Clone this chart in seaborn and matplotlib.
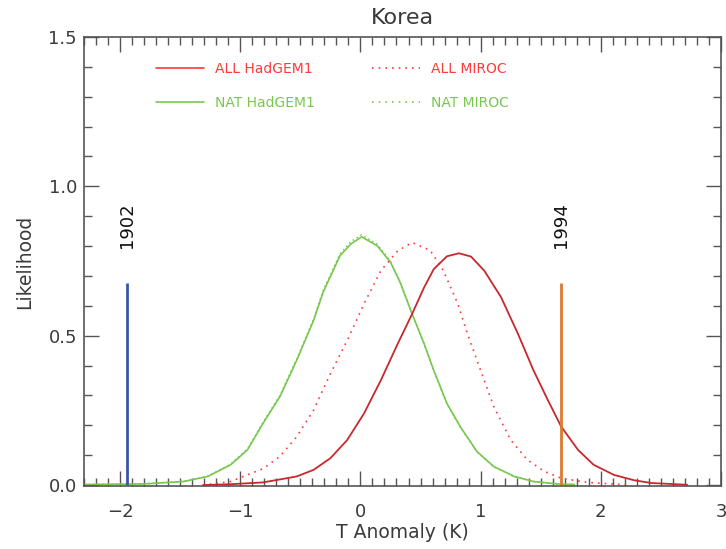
import matplotlib
matplotlib.use("Agg")
import matplotlib.pyplot as plt
import seaborn as sns
import pandas as pd
from matplotlib.lines import Line2D
from matplotlib.ticker import MultipleLocator, FormatStrFormatter

# ---------------- data ----------------
nat_had_x = [-2.3, -1.8, -1.47, -1.27, -1.08, -0.94, -0.81, -0.67, -0.53, -0.39, -0.31, -0.17, -0.08,
             0.01, 0.14, 0.25, 0.33, 0.43, 0.53, 0.61, 0.72, 0.83, 0.97, 1.11, 1.28, 1.44, 1.64, 1.78]
nat_had_y = [0.002, 0.004, 0.012, 0.029, 0.068, 0.118, 0.207, 0.296, 0.418, 0.551, 0.646, 0.768, 0.807,
             0.831, 0.801, 0.746, 0.679, 0.573, 0.473, 0.384, 0.273, 0.196, 0.112, 0.062, 0.029, 0.012,
             0.004, 0.002]

nat_miroc_x = [-2.3, -1.8, -1.47, -1.27, -1.08, -0.94, -0.81, -0.67, -0.53, -0.39, -0.31, -0.17, -0.08,
               0.01, 0.14, 0.25, 0.33, 0.43, 0.53, 0.61, 0.72, 0.83, 0.97, 1.11, 1.28, 1.44, 1.64, 1.78]
nat_miroc_y = [0.002, 0.004, 0.013, 0.030, 0.070, 0.121, 0.210, 0.300, 0.422, 0.555, 0.651, 0.774, 0.815,
               0.838, 0.806, 0.749, 0.680, 0.573, 0.472, 0.383, 0.272, 0.195, 0.111, 0.061, 0.029, 0.012,
               0.004, 0.002]

all_had_x = [-1.31, -1.08, -0.81, -0.53, -0.39, -0.25, -0.11, 0.03, 0.17, 0.31, 0.43, 0.53, 0.61, 0.72,
             0.82, 0.92, 1.03, 1.17, 1.31, 1.44, 1.56, 1.67, 1.81, 1.94, 2.11, 2.28, 2.42, 2.72]
all_had_y = [0.000, 0.003, 0.009, 0.029, 0.051, 0.090, 0.151, 0.240, 0.351, 0.473, 0.573, 0.662, 0.723,
             0.766, 0.776, 0.765, 0.718, 0.629, 0.507, 0.384, 0.284, 0.196, 0.118, 0.068, 0.034, 0.016,
             0.007, 0.001]

all_miroc_x = [-1.31, -1.08, -0.81, -0.67, -0.53, -0.39, -0.25, -0.11, 0.03, 0.17, 0.31, 0.43, 0.58,
               0.69, 0.81, 0.89, 1.00, 1.11, 1.25, 1.39, 1.53, 1.67, 1.89, 2.22]
all_miroc_y = [0.000, 0.012, 0.055, 0.096, 0.162, 0.251, 0.373, 0.484, 0.607, 0.718, 0.784, 0.812, 0.786,
               0.718, 0.607, 0.507, 0.384, 0.262, 0.151, 0.084, 0.046, 0.023, 0.009, 0.001]

event_years = ["1902", "1994"]
event_x = [-1.94, 1.67]
event_height = [0.675, 0.675]

x_ticks = [-2, -1, 0, 1, 2, 3]
y_ticks = [0.0, 0.5, 1.0, 1.5]

# ---------------- styling ----------------
sns.set_style("ticks")
plt.rcParams["font.family"] = ["DejaVu Sans"]
TXT = "#3a3a3a"
AX = "#555555"
RED_DARK = "#c8282c"
RED = "#ff3a3a"
GREEN = "#78c850"
BLUE = "#3a55a8"
ORANGE = "#dc7a30"

fig = plt.figure(figsize=(7.26, 5.49), dpi=100)
ax = fig.add_axes([84 / 726, 1 - 486 / 549, (721 - 84) / 726, (486 - 37) / 549])

def draw(x, y, color, ls, lw):
    df = pd.DataFrame({"x": x, "y": y})
    sns.lineplot(data=df, x="x", y="y", ax=ax, color=color, linestyle=ls, linewidth=lw,
                 sort=False, estimator=None, legend=False)

draw(nat_had_x, nat_had_y, GREEN, "-", 1.2)
draw(nat_miroc_x, nat_miroc_y, GREEN, (0, (1, 2)), 1.1)
draw(all_miroc_x, all_miroc_y, RED, (0, (1, 3)), 1.2)
draw(all_had_x, all_had_y, RED_DARK, "-", 1.3)

for yr, xv, h, c in zip(event_years, event_x, event_height, [BLUE, ORANGE]):
    ax.vlines(xv, 0, h, color=c, linewidth=2)
    ax.text(xv, 0.87, yr, rotation=90, ha="center", va="center", fontsize=13, color="#111111")

ax.set_xlim(-2.3, 3.0)
ax.set_ylim(-0.003, 1.5)
ax.set_xticks(x_ticks)
ax.set_yticks(y_ticks)
ax.xaxis.set_minor_locator(MultipleLocator(0.1))
ax.yaxis.set_minor_locator(MultipleLocator(0.1))
ax.yaxis.set_major_formatter(FormatStrFormatter("%.1f"))
ax.tick_params(which="both", direction="in", top=True, right=True, color=AX, width=1,
               labelsize=13, labelcolor=TXT)
ax.tick_params(which="major", length=11)
ax.tick_params(axis="x", which="major", pad=12)
ax.tick_params(axis="y", which="major", pad=5)
ax.tick_params(which="minor", length=6)
for s in ax.spines.values():
    s.set_color(AX)
    s.set_linewidth(1.2)

ax.set_xlabel("T Anomaly (K)", fontsize=13.5, color=TXT, labelpad=2)
ax.set_ylabel("Likelihood", fontsize=13.5, color=TXT, labelpad=10)
ax.set_title("Korea", fontsize=16, color=TXT, pad=9)

h1 = [Line2D([], [], color=RED, lw=1.2, label="ALL HadGEM1"),
      Line2D([], [], color=GREEN, lw=1.2, label="NAT HadGEM1")]
h2 = [Line2D([], [], color=RED, lw=1.2, ls=(0, (1, 3)), label="ALL MIROC"),
      Line2D([], [], color=GREEN, lw=1.2, ls=(0, (1, 3)), label="NAT MIROC")]
common = dict(loc="upper left", frameon=False, fontsize=10, labelcolor="linecolor",
              handlelength=3.45, handletextpad=0.8, labelspacing=1.45, borderpad=0, borderaxespad=0)
leg1 = ax.legend(handles=h1, bbox_to_anchor=((156 - 84) / 637, (486 - 62) / 449), **common)
ax.add_artist(leg1)
leg2 = ax.legend(handles=h2, bbox_to_anchor=((372 - 84) / 637, (486 - 62) / 449), **common)

fig.savefig("out.png", dpi=100)
